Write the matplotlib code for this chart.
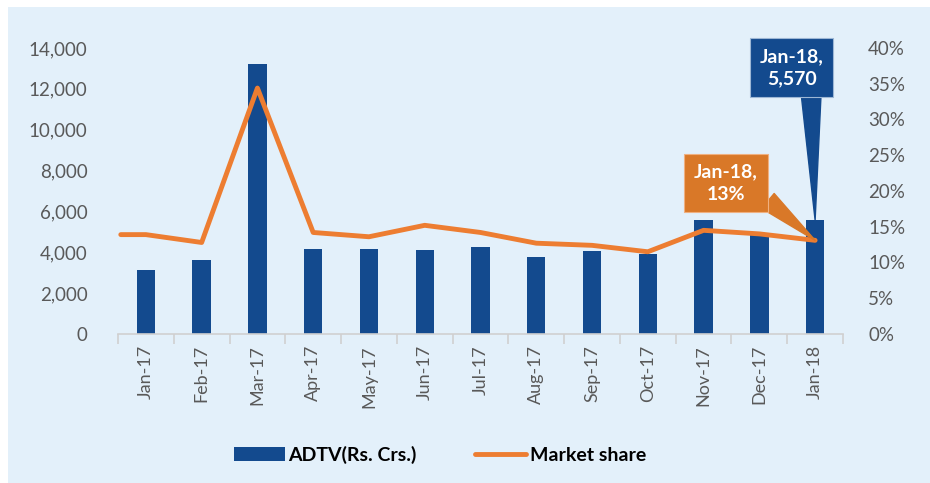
import matplotlib.pyplot as plt
import numpy as np
from matplotlib.patches import Rectangle
from matplotlib.ticker import FuncFormatter, MultipleLocator

months = ['Jan-17', 'Feb-17', 'Mar-17', 'Apr-17', 'May-17', 'Jun-17', 'Jul-17',
          'Aug-17', 'Sep-17', 'Oct-17', 'Nov-17', 'Dec-17', 'Jan-18']
adtv = [3150, 3620, 13200, 4160, 4180, 4120, 4250, 3780, 4080, 3920, 5580, 4850, 5570]
share = [13.9, 12.8, 34.4, 14.2, 13.6, 15.2, 14.2, 12.7, 12.4, 11.5, 14.5, 14.0, 13.1]

blue = '#134A8E'
orange = '#ED7D31'
grey = '#595959'
bg = '#E3F0FA'

plt.rcParams['font.family'] = ['Lato', 'DejaVu Sans']

fig = plt.figure(figsize=(9.3, 4.83), dpi=100, facecolor='white')
fig.patches.append(Rectangle((8 / 930, 0), 1, 1 - 7 / 483, transform=fig.transFigure,
                             facecolor=bg, edgecolor='none', zorder=-10))

ax = fig.add_axes([118 / 930, 1 - 334 / 483, (843 - 118) / 930, (334 - 48) / 483])
ax.patch.set_visible(False)
ax2 = ax.twinx()
ax2.patch.set_visible(False)

x = np.arange(len(months))
bars = ax.bar(x, adtv, width=0.33, color=blue, label='ADTV(Rs. Crs.)', zorder=2)

# Excel draws the line from the left edge of the plot
xl = np.concatenate([[-0.45], x])
yl = np.concatenate([[share[0]], share])
line, = ax2.plot(xl, yl, color=orange, lw=3.5, solid_joinstyle='round',
                 solid_capstyle='round', label='Market share', zorder=3)

ax.set_xlim(-0.45, len(months) - 0.55)
ax.set_ylim(0, 14000)
ax2.set_ylim(0, 40)
ax.yaxis.set_major_locator(MultipleLocator(2000))
ax.yaxis.set_major_formatter(FuncFormatter(lambda v, p: f'{int(v):,}'))
ax2.yaxis.set_major_locator(MultipleLocator(5))
ax2.yaxis.set_major_formatter(FuncFormatter(lambda v, p: f'{int(v)}%'))

for a in (ax, ax2):
    for s in a.spines.values():
        s.set_visible(False)
    a.tick_params(axis='y', length=0, labelsize=13.5, labelcolor=grey)
ax.tick_params(axis='y', pad=22)
ax2.tick_params(axis='y', pad=18)

ax.spines['bottom'].set_visible(True)
ax.spines['bottom'].set_color('#D0D0D0')
ax.spines['bottom'].set_linewidth(1.2)
ax.set_xticks(x)
ax.set_xticklabels(months, rotation=90, fontsize=13, color=grey)
ax.set_xticks(np.arange(-0.5, len(months)), minor=True)
ax.tick_params(axis='x', which='major', length=0, pad=8)
ax.tick_params(axis='x', which='minor', length=7, color='#D0D0D0', width=1.2)

# callouts for the last month
ax2.annotate(f'{months[-1]},\n{adtv[-1]:,}', xy=(x[-1], adtv[-1]), xycoords=ax.transData,
             xytext=(11.58, 13050), textcoords=ax.transData,
             ha='center', va='center', fontsize=14, fontweight='bold', color='white',
             linespacing=1.35,
             bbox=dict(boxstyle='square,pad=0.5', fc=blue, ec='#9DB7D5', lw=0.8),
             arrowprops=dict(arrowstyle='wedge,tail_width=1.0,shrink_factor=0.5',
                             fc=blue, ec=blue, shrinkA=0, shrinkB=0, relpos=(0.8, 0.05)),
             zorder=6)
ax2.annotate(f'{months[-1]},\n{share[-1]:.0f}%', xy=(x[-1], share[-1]),
             xytext=(10.4, 21.1),
             ha='center', va='center', fontsize=14, fontweight='bold', color='white',
             linespacing=1.35,
             bbox=dict(boxstyle='square,pad=0.5', fc='#D97828', ec='#F0B080', lw=0.8),
             arrowprops=dict(arrowstyle='wedge,tail_width=1.0,shrink_factor=0.5',
                             fc='#D97828', ec='#D97828', shrinkA=0, shrinkB=0,
                             relpos=(0.97, 0.3)),
             zorder=6)

fig.legend([bars, line], ['ADTV(Rs. Crs.)', 'Market share'], ncol=2, frameon=False,
           loc='center', bbox_to_anchor=(440 / 930, 1 - 455 / 483),
           prop={'size': 14, 'weight': 'bold'}, handlelength=2.6, columnspacing=3,
           handletextpad=0.2)

fig.savefig('out.png', dpi=100, facecolor='white')
